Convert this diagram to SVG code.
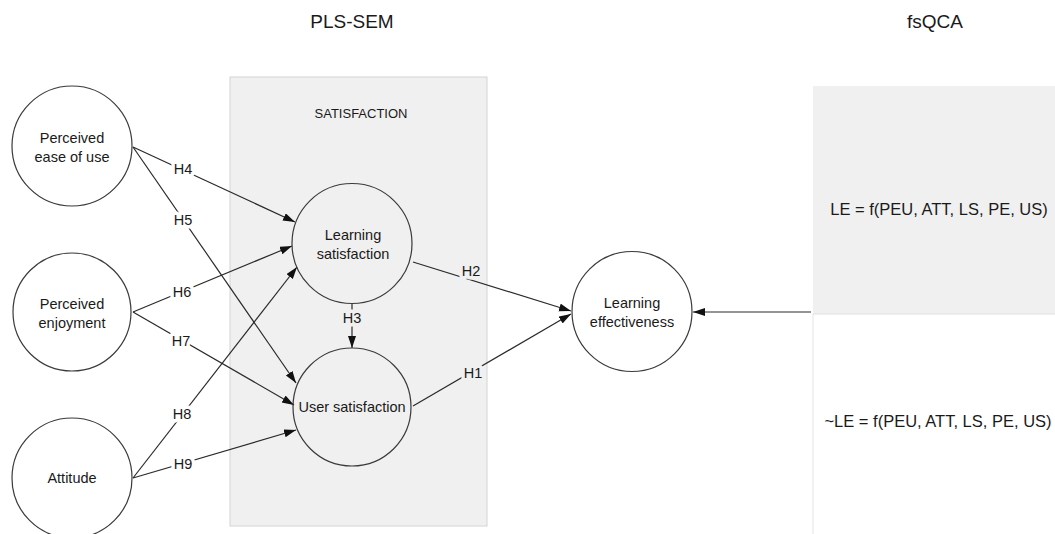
<svg xmlns="http://www.w3.org/2000/svg" width="1055" height="534" viewBox="0 0 1055 534">
<style>
.t{font-family:"Liberation Sans",Arial,sans-serif;fill:#1a1a1a;text-anchor:middle}
.n{font-size:14.5px}
.c{fill:none;stroke:#3a3a3a;stroke-width:1.2}
.e{stroke:#2a2a2a;stroke-width:1.2;fill:none;marker-end:url(#ah)}
.l{font-size:14.5px;paint-order:stroke;stroke-width:7px;stroke-linejoin:round}
.lw{stroke:#ffffff}
.lg{stroke:#f0f0f0}
</style>
<defs>
<marker id="ah" markerWidth="13" markerHeight="9" refX="12" refY="4" orient="auto" markerUnits="userSpaceOnUse">
<path d="M0,0 L12,4 L0,8 z" fill="#111"/>
</marker>
</defs>
<rect width="1055" height="534" fill="#fff"/>
<text class="t" x="352" y="28" font-size="19">PLS-SEM</text>
<text class="t" x="935" y="28" font-size="19">fsQCA</text>
<g id="satisfaction-box">
<rect x="230" y="77" width="257" height="449" fill="#f0f0f0" stroke="#d4d4d4" stroke-width="1"/>
<text class="t" x="361" y="118" font-size="13">SATISFACTION</text>
</g>
<g id="fsqca-box">
<rect x="813" y="86" width="250" height="228" fill="#f0f0f0"/>
<line x1="813" y1="314" x2="1055" y2="314" stroke="#e0e0e0" stroke-width="1"/>
<line x1="813" y1="314" x2="813" y2="534" stroke="#e4e4e4" stroke-width="1"/>
<text class="t" x="939" y="215" font-size="16.5">LE = f(PEU, ATT, LS, PE, US)</text>
<text class="t" x="938" y="427" font-size="16.5">~LE = f(PEU, ATT, LS, PE, US)</text>
</g>
<g id="connectors">
<line class="e" x1="133" y1="147" x2="295" y2="222"/>
<line class="e" x1="133" y1="147" x2="296" y2="383"/>
<line class="e" x1="133" y1="312" x2="292" y2="246"/>
<line class="e" x1="133" y1="312" x2="294" y2="405"/>
<line class="e" x1="133" y1="478" x2="297" y2="267"/>
<line class="e" x1="133" y1="478" x2="296" y2="430"/>
<line class="e" x1="352" y1="303" x2="352" y2="348"/>
<line class="e" x1="413" y1="262" x2="571" y2="311"/>
<line class="e" x1="413" y1="406" x2="571" y2="314"/>
<line class="e" x1="811" y1="312" x2="693" y2="312"/>
<text class="t l lw" x="183" y="174">H4</text>
<text class="t l lw" x="183" y="225">H5</text>
<text class="t l lw" x="182" y="297">H6</text>
<text class="t l lw" x="181" y="346">H7</text>
<text class="t l lw" x="182" y="419">H8</text>
<text class="t l lw" x="183" y="469">H9</text>
<text class="t l lg" x="352" y="323">H3</text>
<text class="t l lg" x="471" y="276">H2</text>
<text class="t l lg" x="473" y="378">H1</text>
</g>
<g id="peu">
<circle class="c" cx="72" cy="146" r="60"/>
<text class="t n" x="72" y="143">Perceived</text>
<text class="t n" x="72" y="162">ease of use</text>
</g>
<g id="pe">
<circle class="c" cx="72" cy="312" r="59"/>
<text class="t n" x="72" y="309">Perceived</text>
<text class="t n" x="72" y="328">enjoyment</text>
</g>
<g id="att">
<circle class="c" cx="72" cy="478" r="60"/>
<text class="t n" x="72" y="483">Attitude</text>
</g>
<g id="ls">
<circle class="c" cx="352" cy="243.5" r="60"/>
<text class="t n" x="353" y="240">Learning</text>
<text class="t n" x="353" y="259">satisfaction</text>
</g>
<g id="us">
<circle class="c" cx="352" cy="407" r="59"/>
<text class="t n" x="352" y="412">User satisfaction</text>
</g>
<g id="le">
<circle class="c" cx="632" cy="311.5" r="60"/>
<text class="t n" x="632" y="308">Learning</text>
<text class="t n" x="632" y="327">effectiveness</text>
</g>
</svg>
